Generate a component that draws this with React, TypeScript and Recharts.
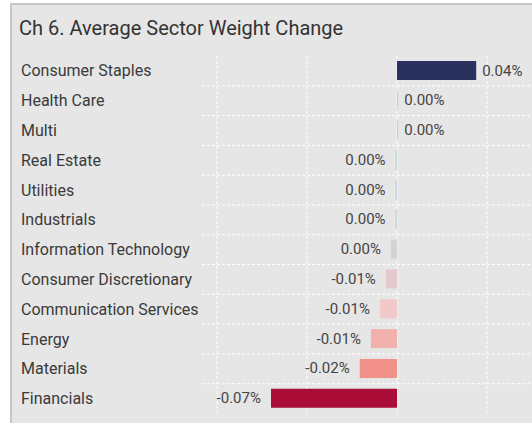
import React from 'react';
import { BarChart, Bar, XAxis, YAxis, CartesianGrid, Cell, LabelList } from 'recharts';

const sectors = [
  'Consumer Staples',
  'Health Care',
  'Multi',
  'Real Estate',
  'Utilities',
  'Industrials',
  'Information Technology',
  'Consumer Discretionary',
  'Communication Services',
  'Energy',
  'Materials',
  'Financials',
];

// average weight change, in percent
const weightChange = [
  0.044, 0.0007, 0.0007, -0.0008, -0.0008, -0.0008, -0.0034, -0.0062, -0.0095, -0.0145, -0.0207,
  -0.07,
];

const xTicks = [-0.1, -0.05, 0, 0.05];
const xDomain = [-0.10833, 0.075];

const barColors = [
  '#2b315f',
  '#c5d3dc',
  '#c5d3dc',
  '#c5d3dc',
  '#c5d3dc',
  '#c5d3dc',
  '#d3d3d5',
  '#e3c9cc',
  '#f0c9c8',
  '#f2b1ad',
  '#f2918a',
  '#a90d38',
];

const data = sectors.map((name, i) => ({ name, value: weightChange[i] }));

const fmt = (v: number) => (Math.abs(v) < 0.005 ? '0.00' : v.toFixed(2)) + '%';

const SectorTick = ({ y, payload }: any) => (
  <text x={21} y={y} dominantBaseline="central" textAnchor="start" fill="#3a3a3a" fontSize={16}>
    {payload.value}
  </text>
);

const ValueLabel = ({ x, y, width, height, value }: any) => {
  const left = Math.min(x, x + width);
  const right = Math.max(x, x + width);
  const pos = value >= 0;
  return (
    <text
      x={pos ? right + 6 : left - 10}
      y={y + height / 2}
      dominantBaseline="central"
      textAnchor={pos ? 'start' : 'end'}
      fill="#444"
      fontSize={15}
    >
      {fmt(value)}
    </text>
  );
};

export default function App() {
  return (
    <div
      style={{
        position: 'absolute',
        left: 0,
        top: 0,
        width: 532,
        height: 423,
        overflow: 'hidden',
        background: '#fff',
        fontFamily: 'Roboto, sans-serif',
      }}
    >
      <div
        style={{
          position: 'absolute',
          left: 10,
          top: 3,
          width: 540,
          height: 440,
          background: '#e6e6e6',
          borderLeft: '2px solid #c6c6c6',
          borderTop: '2px solid #c6c6c6',
        }}
      />
      <div
        style={{
          position: 'absolute',
          left: 19,
          top: 15,
          fontSize: 20,
          color: '#333',
          lineHeight: '26px',
          whiteSpace: 'nowrap',
        }}
      >
        Ch 6. Average Sector Weight Change
      </div>
      <div style={{ position: 'absolute', left: 0, top: 0 }}>
        <BarChart
          width={532}
          height={423}
          data={data}
          layout="vertical"
          margin={{ top: 56, right: 0, bottom: 9.5, left: 0 }}
          barSize={19}
          style={{ fontFamily: 'Roboto, sans-serif' }}
        >
          <CartesianGrid
            stroke="#ffffff"
            strokeDasharray="3 2"
            horizontalCoordinatesGenerator={({ offset }: any) =>
              sectors.slice(1).map((_, i) => offset.top + ((i + 1) * offset.height) / sectors.length)
            }
            verticalCoordinatesGenerator={({ offset }: any) =>
              xTicks.map(
                (t) => offset.left + ((t - xDomain[0]) / (xDomain[1] - xDomain[0])) * offset.width
              )
            }
          />
          <XAxis
            type="number"
            domain={xDomain}
            ticks={xTicks}
            allowDataOverflow
            tick={false}
            axisLine={false}
            tickLine={false}
            height={0}
          />
          <YAxis
            type="category"
            dataKey="name"
            width={202}
            axisLine={false}
            tickLine={false}
            tick={<SectorTick />}
            interval={0}
          />
          <Bar dataKey="value" isAnimationActive={false}>
            {data.map((d, i) => (
              <Cell key={d.name} fill={barColors[i]} />
            ))}
            <LabelList dataKey="value" content={<ValueLabel />} />
          </Bar>
        </BarChart>
      </div>
    </div>
  );
}
